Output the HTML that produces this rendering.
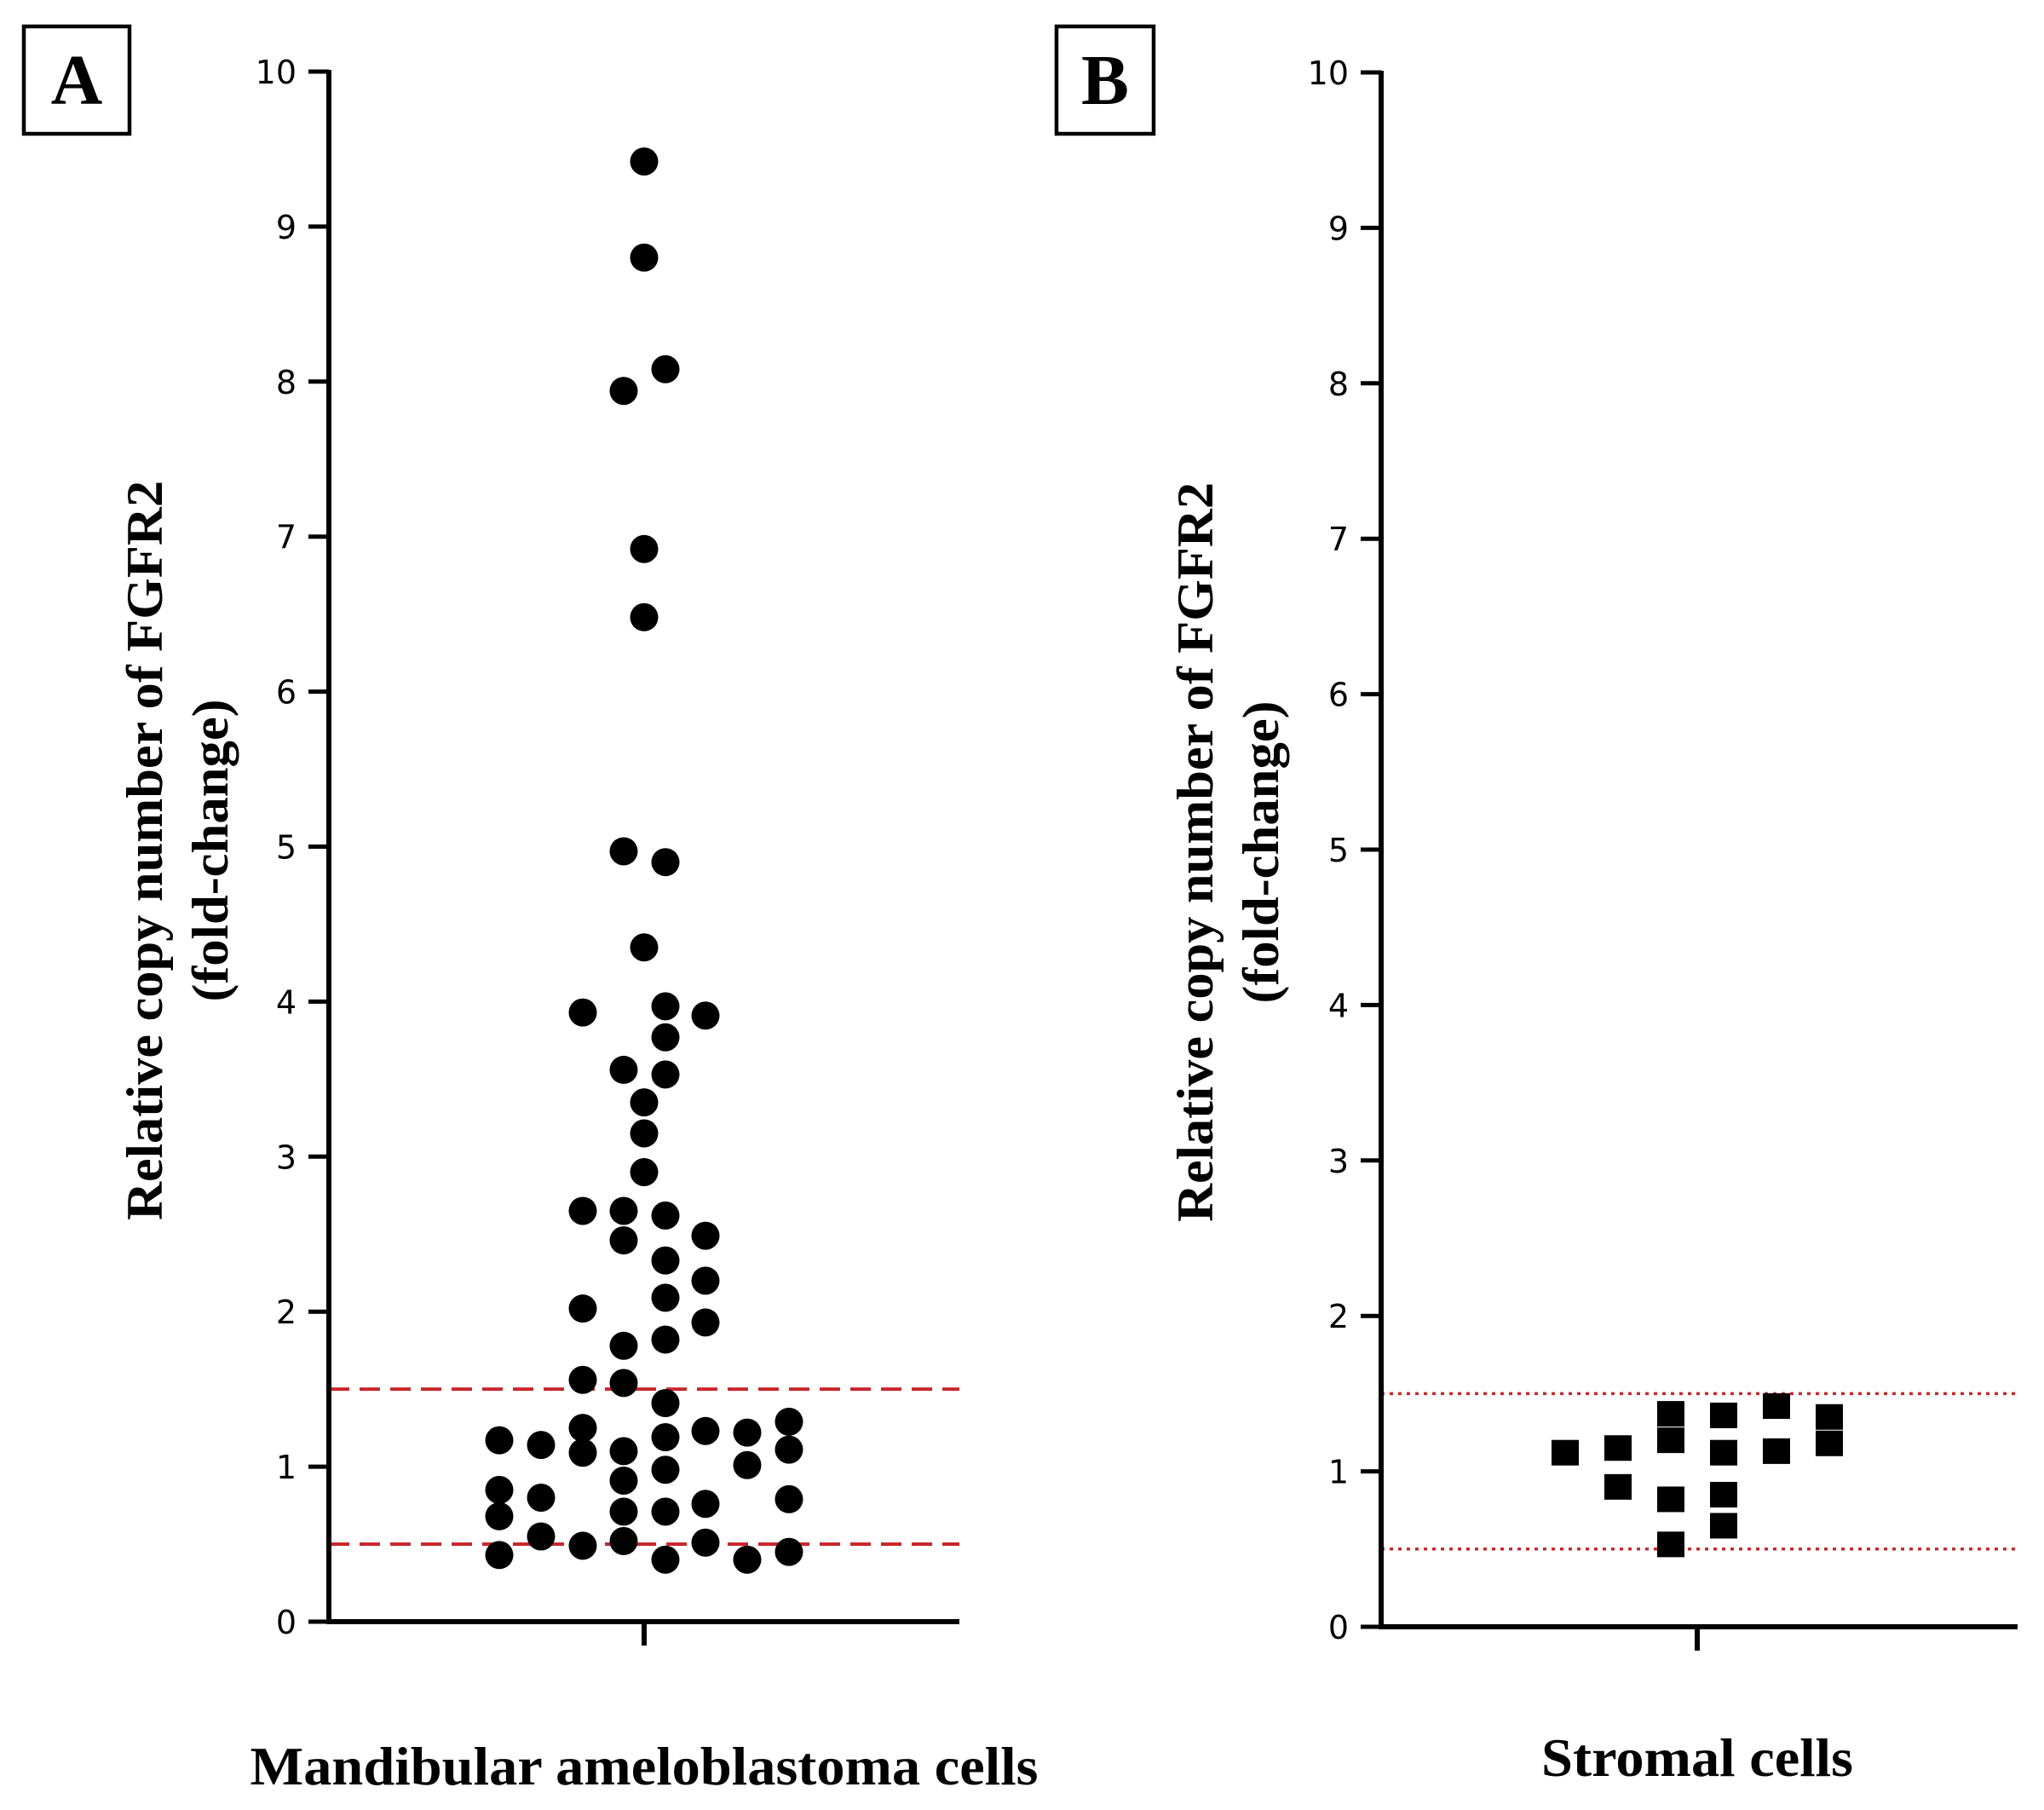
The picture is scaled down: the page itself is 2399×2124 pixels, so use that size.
<!DOCTYPE html>
<html><head><meta charset="utf-8"><style>body{margin:0;background:#fff}svg{display:block}</style></head>
<body>
<svg id="chart" width="2399" height="2124" viewBox="0 0 2399 2124" xmlns="http://www.w3.org/2000/svg">
<g id="gA"></g>
<g id="gB"></g>
</svg>
<script>
const yTicks = [0,1,2,3,4,5,6,7,8,9,10];
const thresholds = [0.5, 1.5];
const aValues = [9.42,8.8,6.92,6.48,4.35,3.35,3.15,2.9,
 7.94,4.97,3.56,2.65,2.46,1.78,1.54,1.1,0.91,0.71,0.52,
 8.08,4.9,3.97,3.77,3.53,2.62,2.33,2.09,1.82,1.41,1.19,0.98,0.71,0.4,
 3.93,2.65,2.02,1.56,1.25,1.09,0.49,
 3.91,2.49,2.2,1.93,1.23,0.76,0.51,
 1.17,0.85,0.68,0.43,
 1.14,0.8,0.55,
 1.22,1.01,0.4,
 1.29,1.11,0.79,0.45];
const aCols = [4,4,4,4,4,4,4,4,
 3,3,3,3,3,3,3,3,3,3,3,
 5,5,5,5,5,5,5,5,5,5,5,5,5,5,
 2,2,2,2,2,2,2,
 6,6,6,6,6,6,6,
 0,0,0,0,
 1,1,1,
 7,7,7,
 8,8,8,8];
const bValues = [1.12,1.15,0.9,1.37,1.2,0.82,0.53,1.36,1.12,0.85,0.65,1.42,1.13,1.35,1.18];
const bCols = [0,1,1,2,2,2,2,3,3,3,3,4,4,5,5];

const NS='http://www.w3.org/2000/svg';
function mk(parent,tag,attrs,text){const e=document.createElementNS(NS,tag);for(const k in attrs)e.setAttribute(k,attrs[k]);if(text!==undefined)e.textContent=text;parent.appendChild(e);return e;}

function panel(g, cfg){
  const y = v => cfg.y0 - v*(cfg.y0-cfg.y10)/10;
  const box = mk(g,'rect',{x:cfg.bx,y:31,width:cfg.bw,height:126,fill:'none',stroke:'#000','stroke-width':4.5});
  
  
  const bl = mk(g,'text',{x:cfg.bx+cfg.bw/2,y:122,'text-anchor':'middle','font-family':'Liberation Serif, serif','font-weight':'bold','font-size':84},cfg.letter);
  
  
  thresholds.forEach(t=>{
    const l = mk(g,'line',{x1:cfg.ax,x2:cfg.xEnd,y1:y(t),y2:y(t),stroke:'#c8282d','stroke-width':cfg.dotted?3.5:4,'stroke-dasharray':cfg.dotted?'4 6':'24 12'});
    
    
  });
  const ya = mk(g,'line',{x1:cfg.ax,x2:cfg.ax,y1:cfg.y10-2,y2:cfg.y0+3,stroke:'#000','stroke-width':6});
  
  
  const xa = mk(g,'line',{x1:cfg.ax-3,x2:cfg.xEnd,y1:cfg.y0,y2:cfg.y0,stroke:'#000','stroke-width':6});
  
  
  const xt = mk(g,'line',{x1:cfg.tickX,x2:cfg.tickX,y1:cfg.y0,y2:cfg.y0+28,stroke:'#000','stroke-width':6});
  
  
  yTicks.forEach(t=>{
    const tl = mk(g,'line',{x1:cfg.ax-24,x2:cfg.ax,y1:y(t),y2:y(t),stroke:'#000','stroke-width':5});
    
    
    const tx = mk(g,'text',{x:cfg.ax-38,y:y(t)+14,'text-anchor':'end','font-family':'DejaVu Sans, sans-serif','font-size':38},String(t));
    
    
  });
  const yt = mk(g,'text',{transform:`translate(${cfg.t1x},${cfg.tcy}) rotate(-90)`,'text-anchor':'middle','font-family':'Liberation Serif, serif','font-weight':'bold','font-size':60,textLength:868,lengthAdjust:'spacingAndGlyphs'},'Relative copy number of FGFR2');
  
  
  const yt2 = mk(g,'text',{transform:`translate(${cfg.t1x+77},${cfg.tcy}) rotate(-90)`,'text-anchor':'middle','font-family':'Liberation Serif, serif','font-weight':'bold','font-size':60,textLength:355,lengthAdjust:'spacingAndGlyphs'},'(fold-change)');
  
  
  const xl = mk(g,'text',{x:cfg.tickX,y:cfg.xly,'text-anchor':'middle','font-family':'Liberation Serif, serif','font-weight':'bold','font-size':64,textLength:cfg.xlw,lengthAdjust:'spacingAndGlyphs'},cfg.xlabel);
  
  
  cfg.vals.forEach((v,i)=>{
    const cx = cfg.colX(cfg.cols[i]);
    let m;
    if(cfg.square){
      m = mk(g,'rect',{x:cx-16,y:y(v)-15,width:32,height:30,fill:'#000'});
    } else {
      m = mk(g,'circle',{cx:cx,cy:y(v),r:16.5,fill:'#000'});
    }
    
    
  });
}
const aColPos = [586,635,684,732,756,781,828,877,926];
panel(document.getElementById('gA'),{letter:'A',bx:28,bw:124,ax:386,y0:1903,y10:84,xEnd:1126,tickX:756,
  t1x:190,tcy:998,xly:2094,xlw:925,xlabel:'Mandibular ameloblastoma cells',vals:aValues,cols:aCols,colX:c=>aColPos[c],dotted:false,square:false});
panel(document.getElementById('gB'),{letter:'B',bx:1240,bw:114,ax:1621,y0:1909,y10:85,xEnd:2368,tickX:1992,
  t1x:1423,tcy:1000,xly:2084,xlw:366,xlabel:'Stromal cells',vals:bValues,cols:bCols,colX:c=>1837+c*62,dotted:true,square:true});
</script>
</body></html>
